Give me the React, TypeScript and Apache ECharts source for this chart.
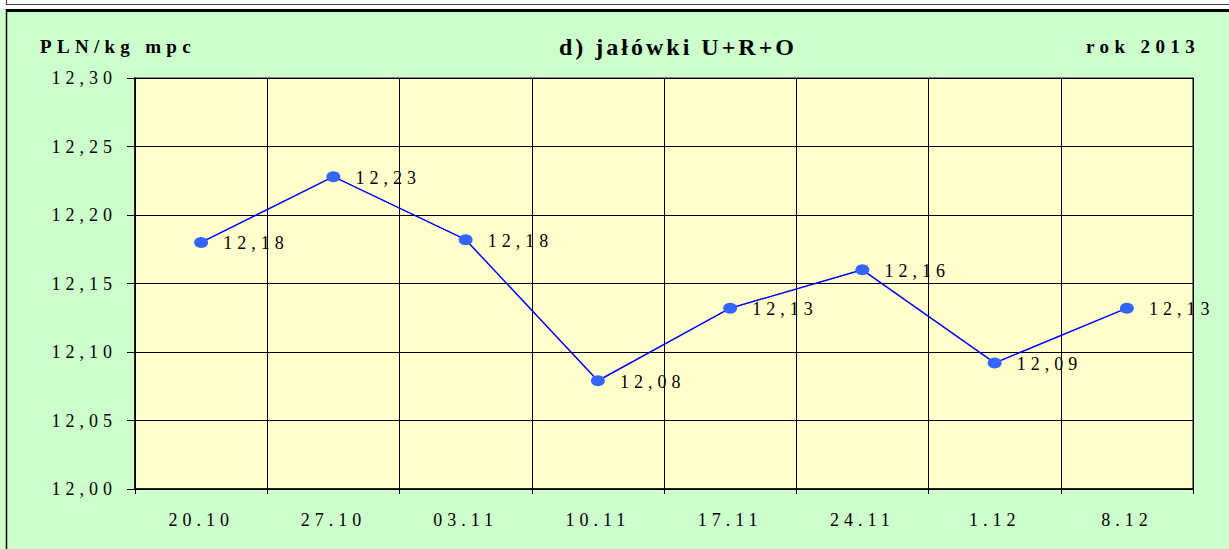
import React, { useEffect, useRef } from "react";
import * as echarts from "echarts";

const categories = ["20.10", "27.10", "03.11", "10.11", "17.11", "24.11", "1.12", "8.12"];
const prices = [12.18, 12.228, 12.182, 12.079, 12.132, 12.16, 12.092, 12.132];
const yMin = 12.0;
const yMax = 12.3;
const yStep = 0.05;
const unitLabel = "PLN/kg mpc";
const chartTitle = "d) jałówki U+R+O";
const yearLabel = "rok 2013";

const FONT = '"Liberation Serif", "Times New Roman", serif';
const fmt = (v: number) => v.toFixed(2).replace(".", ",");

export default function App() {
  const ref = useRef<HTMLDivElement>(null);
  useEffect(() => {
    if (!ref.current) return;
    const chart = echarts.init(ref.current, null, { renderer: "svg" });
    chart.setOption({
      animation: false,
      backgroundColor: "#CCFFCC",
      graphic: [
        { type: "rect", left: 0, top: 0, shape: { x: 0, y: 0, width: 1229, height: 9 }, style: { fill: "#ffffff" }, silent: true },
        { type: "line", shape: { x1: 6, y1: 4.5, x2: 1229, y2: 4.5 }, style: { stroke: "#444", lineWidth: 1.2 }, silent: true },
        { type: "line", shape: { x1: 6.5, y1: 0, x2: 6.5, y2: 5 }, style: { stroke: "#444", lineWidth: 1.2 }, silent: true },
        { type: "line", shape: { x1: 6, y1: 10.5, x2: 1229, y2: 10.5 }, style: { stroke: "#000", lineWidth: 3 }, silent: true },
        { type: "line", shape: { x1: 6.5, y1: 9, x2: 6.5, y2: 549 }, style: { stroke: "#000", lineWidth: 1.5 }, silent: true },
      ],
      title: [
        {
          text: unitLabel,
          left: 35,
          top: 32,
          textStyle: { fontFamily: FONT, fontSize: 19, fontWeight: "bold", color: "#000" },
        },
        {
          text: chartTitle,
          left: 554,
          top: 30,
          textStyle: { fontFamily: FONT, fontSize: 24, fontWeight: "bold", color: "#000" },
        },
        {
          text: yearLabel,
          left: 1081,
          top: 32,
          textStyle: { fontFamily: FONT, fontSize: 19, fontWeight: "bold", color: "#000" },
        },
      ],
      grid: {
        left: 135,
        right: 36,
        top: 78,
        bottom: 60,
        show: true,
        backgroundColor: "#FFFFCC",
        borderColor: "#808080",
        borderWidth: 2,
      },
      xAxis: {
        type: "category",
        data: categories,
        boundaryGap: true,
        axisLine: { lineStyle: { color: "#000", width: 1.5 } },
        axisTick: { show: true, length: 5, lineStyle: { color: "#000" } },
        axisLabel: { margin: 22, fontFamily: FONT, fontSize: 18, color: "#000" },
        splitLine: { show: true, lineStyle: { color: "#000", width: 1 } },
      },
      yAxis: {
        type: "value",
        min: yMin,
        max: yMax,
        interval: yStep,
        axisLine: { show: true, lineStyle: { color: "#000", width: 1.5 } },
        axisTick: { show: true, length: 8, lineStyle: { color: "#000" } },
        axisLabel: { margin: 18, fontFamily: FONT, fontSize: 18, color: "#000", formatter: (v: number) => fmt(v) },
        splitLine: { show: true, lineStyle: { color: "#000", width: 1 } },
      },
      series: [
        {
          type: "line",
          data: prices,
          silent: true,
          symbol: "circle",
          symbolSize: [14, 11],
          itemStyle: { color: "#3366FF" },
          lineStyle: { color: "#0000FF", width: 1.5 },
          label: {
            show: true,
            position: "right",
            distance: 15,
            offset: [0, 1],
            fontFamily: FONT,
            fontSize: 18,
            color: "#000",
            formatter: (p: any) => fmt(p.value),
          },
        },
      ],
    });
    const texts = ref.current.querySelectorAll("text");
    texts.forEach((t) => {
      const s = t.textContent || "";
      let ls = "5px";
      if (s === chartTitle) ls = "3px";
      else if (s === unitLabel) ls = "5.3px";
      else if (s === yearLabel) ls = "5.4px";
      t.setAttribute("letter-spacing", ls);
    });
    return () => chart.dispose();
  }, []);
  return <div ref={ref} style={{ position: "fixed", left: 0, top: 0, width: 1229, height: 549 }} />;
}
